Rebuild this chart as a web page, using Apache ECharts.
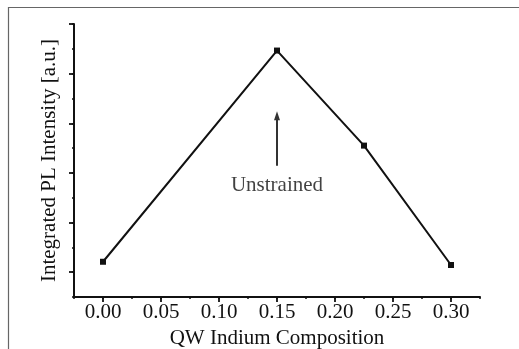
<!DOCTYPE html>
<html>
<head>
<meta charset="utf-8">
<script src="https://cdn.jsdelivr.net/npm/echarts@6/dist/echarts.min.js"></script>
<style>html,body{margin:0;padding:0;background:#fff}#c{width:519px;height:349px}</style>
</head>
<body>
<div id="c"></div>
<script>
// Data
var composition = [0.00, 0.15, 0.225, 0.30];
var intensity = [1.42, 9.93, 6.1, 1.29];
var xTickLabels = [0.00, 0.05, 0.10, 0.15, 0.20, 0.25, 0.30];
var yMajorTicks = [1, 3, 5, 7, 9, 11];
var arrowX = [0.15, 0.15];
var arrowY = [5.3, 7.3];
var noteText = 'Unstrained';
var notePos = [0.15, 4.5];

var FONT = 'Liberation Serif';
var TXT = '#111';
var chart = echarts.init(document.getElementById('c'));
chart.setOption({
  animation: false,
  backgroundColor: '#fff',
  grid: {left: 74, top: 24, right: 39, bottom: 52, containLabel: false, outerBoundsMode: 'none'},
  graphic: [
    {type: 'line', shape: {x1: 8, y1: 7.5, x2: 519, y2: 7.5}, style: {stroke: '#666', lineWidth: 1.2}},
    {type: 'line', shape: {x1: 8.5, y1: 7, x2: 8.5, y2: 349}, style: {stroke: '#666', lineWidth: 1.2}}
  ],
  xAxis: [{
    type: 'value', min: -0.025, max: 0.325, interval: 0.025, position: 'bottom',
    name: 'QW Indium Composition', nameLocation: 'middle', nameGap: 26,
    nameTextStyle: {fontFamily: FONT, fontSize: 21, color: TXT},
    axisLine: {show: true, onZero: false, lineStyle: {color: '#111', width: 2}},
    axisTick: {show: true, length: 2, lineStyle: {color: '#111', width: 1.5}},
    splitLine: {show: false},
    axisLabel: {
      fontFamily: FONT, fontSize: 21, color: TXT, margin: 5,
      customValues: xTickLabels,
      formatter: function (v) { return v.toFixed(2); }
    }
  }, {
    type: 'value', min: -0.025, max: 0.325, position: 'bottom', offset: 0,
    axisLine: {show: false, onZero: false},
    axisTick: {show: true, length: 5, customValues: xTickLabels, lineStyle: {color: '#111', width: 1.8}},
    axisLabel: {show: false}, splitLine: {show: false}
  }],
  yAxis: [{
    type: 'value', min: 0, max: 11, interval: 1, position: 'left',
    name: 'Integrated PL Intensity [a.u.]', nameLocation: 'middle', nameGap: 14,
    nameTextStyle: {fontFamily: FONT, fontSize: 21, color: TXT},
    axisLine: {show: true, onZero: false, lineStyle: {color: '#111', width: 2}},
    axisTick: {show: true, length: 2, lineStyle: {color: '#111', width: 1.5}},
    axisLabel: {show: false}, splitLine: {show: false}
  }, {
    type: 'value', min: 0, max: 11, position: 'left', offset: 0,
    axisLine: {show: false, onZero: false},
    axisTick: {show: true, length: 5, customValues: yMajorTicks, lineStyle: {color: '#111', width: 1.8}},
    axisLabel: {show: false}, splitLine: {show: false}
  }],
  series: [{
    type: 'line',
    data: composition.map(function (x, i) { return [x, intensity[i]]; }),
    symbol: 'rect', symbolSize: 6,
    itemStyle: {color: '#111'},
    lineStyle: {color: '#111', width: 2}
  }, {
    type: 'line',
    data: arrowX.map(function (x, i) { return [x, arrowY[i]]; }),
    symbol: 'none',
    lineStyle: {color: '#333', width: 2},
    markLine: {
      silent: true, symbol: ['none', 'triangle'], symbolSize: [6, 9],
      lineStyle: {color: '#333', width: 2, type: 'solid'}, label: {show: false},
      data: [[{coord: [arrowX[0], arrowY[0]]}, {coord: [arrowX[1], arrowY[1]]}]]
    }
  }, {
    type: 'scatter', symbolSize: 0,
    data: [notePos],
    label: {show: true, position: 'inside', formatter: noteText,
      fontFamily: FONT, fontSize: 21, color: TXT}
  }]
});
</script>
</body>
</html>
